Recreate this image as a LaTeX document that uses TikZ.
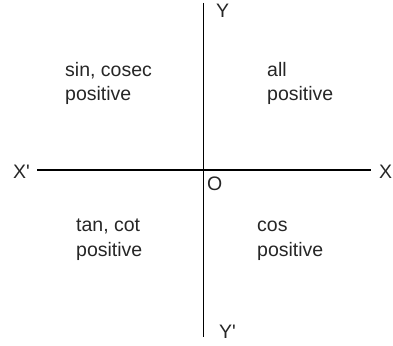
\documentclass[tikz,border=0pt]{standalone}
\usepackage{fontspec}
\setmainfont{Liberation Sans}
\begin{document}
\begin{tikzpicture}[x=1pt,y=-1pt,
  lbl/.style={inner sep=0pt, anchor=base west, text=black!85, font=\fontsize{19.5}{24.5}\selectfont},
  quad/.style={lbl, align=left},
  axis/.style={line width=1.2pt, black}]
\useasboundingbox (0,0) rectangle (393,345);
\coordinate (xl) at (37,170);
\coordinate (xr) at (371,170);
\coordinate (yt) at (203.5,3);
\coordinate (yb) at (203.5,337);
\draw[axis] (xl) -- (xr);
\draw[axis] (yt) -- (yb);
\node[lbl] (xp) at (13,178) {X\textquotesingle};
\node[lbl] (x) at (379,178) {X};
\node[lbl] (y) at (216,18) {Y};
\node[lbl] (yp) at (219,338) {Y\textquotesingle};
\node[lbl] (o) at (207,190) {O};
\node[quad] (q2) at (65,100.5) {sin, cosec\\positive};
\node[quad] (q1) at (267,100.5) {all\\positive};
\node[quad] (q3) at (76,256) {tan, cot\\positive};
\node[quad] (q4) at (257,256) {cos\\positive};
\end{tikzpicture}
\end{document}
